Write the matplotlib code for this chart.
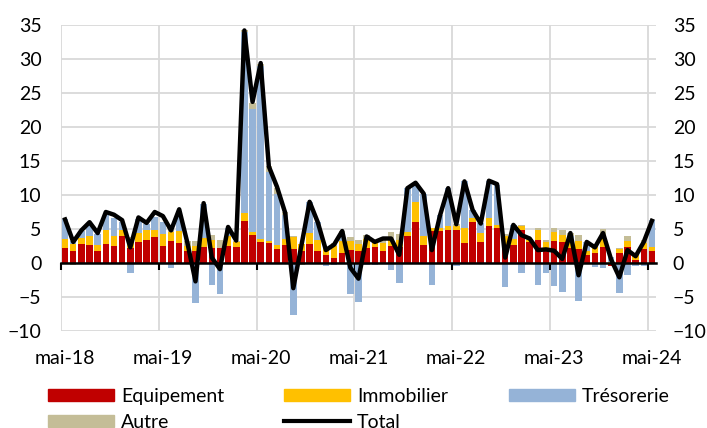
import numpy as np
import matplotlib
matplotlib.use('Agg')
import matplotlib.pyplot as plt
from matplotlib.lines import Line2D
from matplotlib.patches import Patch

plt.rcParams['font.family'] = ['Lato', 'DejaVu Sans']

equipement = [2.2, 1.7, 2.8, 2.7, 1.8, 2.8, 2.5, 4.0, 2.2, 3.1, 3.4, 3.8,
              2.5, 3.2, 2.9, 1.7, 1.7, 2.3, 2.2, 2.2, 2.5, 2.4, 6.2, 4.1,
              3.1, 3.0, 2.1, 2.6, 2.0, 1.8, 2.8, 1.7, 1.2, 0.8, 1.5, 1.9,
              1.7, 2.2, 2.3, 1.7, 2.5, 2.4, 4.0, 6.0, 2.7, 4.7, 4.7, 4.8,
              4.8, 3.0, 6.0, 3.1, 5.4, 5.2, 2.4, 2.6, 4.9, 3.1, 3.4, 1.9,
              3.2, 3.1, 2.2, 2.0, 1.2, 1.4, 2.3, -0.4, 1.5, 2.3, 0.5, 2.1,
              1.7]
immobilier = [1.3, 1.1, 0.9, 1.3, 0.8, 2.0, 1.4, 0.8, 1.4, 1.3, 1.5, 1.0,
              1.7, 1.4, 1.8, 0.8, 0.8, 1.4, 1.2, -0.3, 1.4, 0.7, 1.2, 0.5,
              0.4, 0.2, 0.6, 1.0, 1.8, 1.0, 1.6, 1.7, 1.0, 1.7, 1.8, 1.4,
              1.1, 1.3, 0.7, 1.2, 1.1, 1.0, 0.5, 2.9, 1.3, 0.4, 0.5, 0.6,
              0.6, 2.2, 0.6, 1.3, 1.2, 0.4, 1.6, 1.0, 0.5, 0.3, 1.4, 1.2,
              1.4, 1.0, 1.2, 1.3, 0.6, 0.9, 1.8, 0.2, 0.5, 1.0, 0.9, 0.8,
              0.7]
tresorerie = [2.9, 0.4, 1.0, 1.6, 1.7, 2.2, 2.7, 1.3, -1.5, 2.0, 0.9, 2.0,
              1.9, -0.7, 2.9, 0.0, -5.9, 5.0, -3.2, -4.2, 1.3, 0.0, 26.6, 18.0,
              25.5, 10.2, 7.5, 3.5, -7.7, 0.0, 4.6, 2.6, -0.4, -0.3, 1.1, -4.5,
              -5.7, -0.3, -0.3, 0.1, -1.1, -3.0, 6.5, 2.9, 6.2, -3.2, 1.8, 5.6,
              -0.5, 6.8, 1.2, 1.5, 5.5, 5.9, -3.6, 2.0, -1.5, 0.0, -3.3, -1.5,
              -3.4, -4.2, 0.5, -5.6, 1.3, -0.6, -0.8, 0.7, -4.4, -1.8, -0.5, -0.5,
              3.9]
autre = [0.0, -0.3, 0.0, 0.0, 0.0, 0.0, 0.0, 0.0, 0.2, 0.0, 0.0, 0.0,
         0.0, 0.2, 0.0, 0.7, 0.8, 0.0, 0.7, 1.2, 0.0, 0.2, 0.2, 0.9,
         0.3, 0.8, 0.8, 0.4, 0.1, -0.3, 0.0, 0.0, 0.0, 0.4, 0.3, 0.5,
         0.6, 0.6, 0.4, 0.6, 1.0, 0.8, 0.0, 0.0, 0.0, 0.0, 0.0, 0.0,
         0.3, 0.0, 0.0, 0.0, 0.0, 0.0, 0.3, 0.0, 0.2, 0.2, 0.3, 0.3,
         0.5, 0.7, 0.5, 0.8, 0.0, 0.4, 0.9, 0.0, 0.2, 0.6, 0.0, 0.5,
         0.0]
total = [6.4, 3.1, 4.8, 6.0, 4.4, 7.5, 7.1, 6.3, 2.3, 6.7, 5.9, 7.5,
         6.9, 4.8, 7.9, 3.0, -2.7, 8.8, 0.8, -0.9, 5.3, 3.3, 34.2, 23.7,
         29.4, 14.2, 11.2, 7.4, -3.7, 2.6, 9.0, 6.0, 1.9, 2.7, 4.7, -0.7,
         -2.3, 3.9, 3.1, 3.6, 3.6, 1.2, 11.0, 11.8, 10.2, 1.9, 7.0, 11.0,
         5.7, 12.0, 7.8, 5.8, 12.1, 11.6, 0.8, 5.6, 4.1, 3.6, 1.9, 2.0,
         1.8, 0.6, 4.4, -1.8, 3.1, 2.3, 4.4, 0.5, -2.1, 1.9, 1.0, 3.1,
         6.2]
tick_labels = ['mai-18', 'mai-19', 'mai-20', 'mai-21', 'mai-22', 'mai-23', 'mai-24']

series = [
    ('Equipement', equipement, '#C00000'),
    ('Immobilier', immobilier, '#FFC000'),
    ('Trésorerie', tresorerie, '#95B3D7'),
    ('Autre', autre, '#C4BD97'),
]

n = len(total)
x = np.arange(n)
FS = 14

fig = plt.figure(figsize=(7.07, 4.28), dpi=100)
ax = fig.add_axes([61/707, 1-331/428, 595/707, 306/428])

pos_b = np.zeros(n)
neg_b = np.zeros(n)
for name, vals, col in series:
    v = np.array(vals, dtype=float)
    p = np.where(v > 0, v, 0)
    q = np.where(v < 0, v, 0)
    ax.bar(x, p, bottom=pos_b, width=0.8, color=col, zorder=2, linewidth=0)
    ax.bar(x, q, bottom=neg_b, width=0.8, color=col, zorder=2, linewidth=0)
    pos_b += p
    neg_b += q

ax.plot(x, total, color='black', lw=3.2, zorder=5, solid_joinstyle='round')

ax.set_xlim(-0.5, n - 0.5)
ax.set_ylim(-10, 35)
ax.set_yticks(np.arange(-10, 36, 5))
ax.yaxis.grid(True, color='#D9D9D9', lw=1.3)
ax.set_axisbelow(True)

major = np.arange(0, n, 12)
minor = np.arange(-0.5, n - 1, 12)
ax.set_xticks(major)
ax.set_xticks(minor, minor=True)
ax.xaxis.grid(True, which='minor', color='#D9D9D9', lw=1.3)
ax.tick_params(axis='x', which='major', length=0, labelbottom=False)
ax.tick_params(axis='x', which='minor', length=5, width=1.5, color='black', direction='out')

for s in ['top', 'right', 'left']:
    ax.spines[s].set_visible(False)
ax.spines['bottom'].set_position(('data', 0))
ax.spines['bottom'].set_linewidth(1.8)
ax.spines['bottom'].set_color('black')
ax.spines['bottom'].set_zorder(3)

ax.tick_params(axis='y', length=0, labelsize=FS, pad=14)

sec = ax.secondary_xaxis(0)
sec.set_xticks(major, labels=tick_labels)
sec.tick_params(length=0, labelsize=FS, pad=14)
sec.spines['bottom'].set_visible(False)

ax2 = ax.twinx()
ax2.set_ylim(-10, 35)
ax2.set_yticks(np.arange(-10, 36, 5))
ax2.tick_params(axis='y', length=0, labelsize=FS, pad=12)
for s in ax2.spines.values():
    s.set_visible(False)

handles = [Patch(color='#C00000'), Patch(color='#C4BD97'),
           Patch(color='#FFC000'), Line2D([0], [0], color='black', lw=3),
           Patch(color='#95B3D7')]
labels = ['Equipement', 'Autre', 'Immobilier', 'Total', 'Trésorerie']
fig.legend(handles, labels, ncol=3, loc='upper left',
           bbox_to_anchor=(48/707, 1-388/428), frameon=False, fontsize=FS,
           handlelength=3.4, handleheight=0.6, handletextpad=0.35,
           columnspacing=3.1, labelspacing=0.45, borderpad=0, borderaxespad=0)

fig.savefig('out.png', dpi=100)
